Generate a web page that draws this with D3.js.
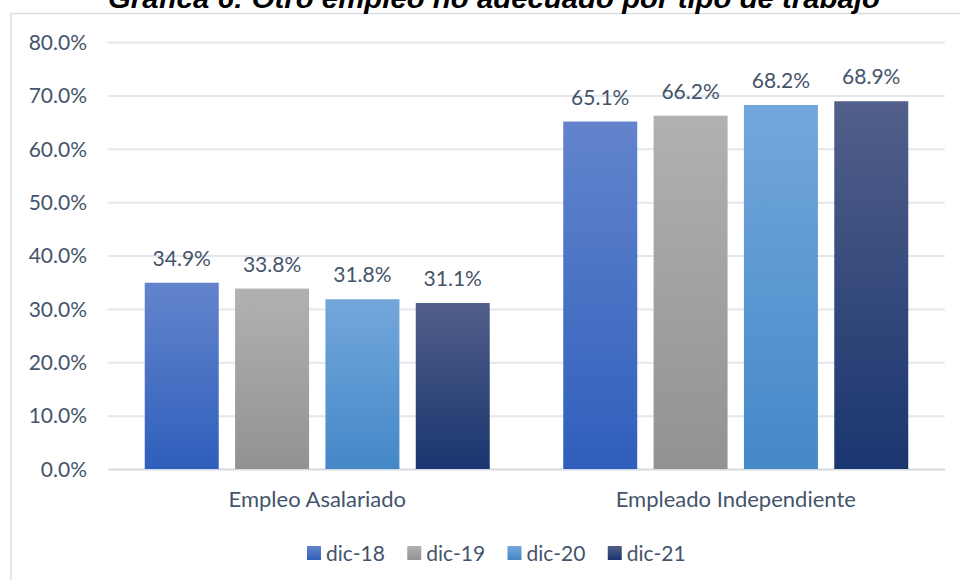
<!DOCTYPE html>
<html><head><meta charset="utf-8">
<script src="https://cdn.jsdelivr.net/npm/d3@7"></script>
<style>
html,body{margin:0;padding:0;background:#fff;}
svg{display:block;}
</style></head>
<body>
<svg id="chart" width="960" height="580"></svg>
<script>
const title = "Gráfica 6: Otro empleo no adecuado por tipo de trabajo";
const categories = ["Empleo Asalariado", "Empleado Independiente"];
const seriesNames = ["dic-18", "dic-19", "dic-20", "dic-21"];
const values = {
  "dic-18": [34.9, 65.1],
  "dic-19": [33.8, 66.2],
  "dic-20": [31.8, 68.2],
  "dic-21": [31.1, 68.9]
};
const yTicks = [0, 10, 20, 30, 40, 50, 60, 70, 80];
const colorsTop = ["#6384cc", "#b1b1b1", "#73a7db", "#525f8a"];
const colorsBottom = ["#2f5fbc", "#929292", "#4488c8", "#1a366f"];

const svg = d3.select("#chart");
const W = 960, H = 580;
const font = "Lato, 'Open Sans', sans-serif";
const textColor = "#44546a";

// gradients
const defs = svg.append("defs");
seriesNames.forEach((s, i) => {
  const g = defs.append("linearGradient").attr("id", "grad" + i)
    .attr("x1", 0).attr("y1", 0).attr("x2", 0).attr("y2", 1);
  g.append("stop").attr("offset", "0%").attr("stop-color", colorsTop[i]);
  g.append("stop").attr("offset", "100%").attr("stop-color", colorsBottom[i]);
});

// background + border
svg.append("rect").attr("x", 0).attr("y", 0).attr("width", W).attr("height", H).attr("fill", "#fff");
svg.append("rect").attr("x", 11).attr("y", 13.5).attr("width", 960).attr("height", 600)
  .attr("fill", "none").attr("stroke", "#d9dee6").attr("stroke-width", 1.5);

// title (clipped at top, as in the reference)
svg.append("text").attr("x", 494).attr("y", 8)
  .attr("text-anchor", "middle")
  .attr("font-family", "'Liberation Sans', Arial, sans-serif")
  .attr("font-weight", "bold").attr("font-style", "italic")
  .attr("font-size", 28).attr("fill", "#000")
  .attr("textLength", 772).attr("lengthAdjust", "spacingAndGlyphs")
  .text(title);

const plotLeft = 108, plotRight = 945, plotTop = 42, plotBottom = 469;

const y = d3.scaleLinear().domain([0, 80]).range([plotBottom, plotTop]);
const x0 = d3.scaleBand().domain(categories).range([plotLeft, plotRight])
  .paddingInner(0.1756).paddingOuter(0.0878);
const x1 = d3.scaleBand().domain(seriesNames).range([0, x0.bandwidth()])
  .paddingInner(0.181).paddingOuter(0);

// gridlines via axis
const grid = svg.append("g").attr("transform", `translate(${plotLeft},0)`)
  .call(d3.axisLeft(y).tickValues(yTicks).tickSize(-(plotRight - plotLeft)).tickFormat(""));
grid.select(".domain").remove();
grid.selectAll(".tick line").attr("stroke", d => d === 0 ? "#d5d9e0" : "#e3e6ec").attr("stroke-width", 2);

// y tick labels
const yAxis = svg.append("g").attr("transform", `translate(87,0)`)
  .call(d3.axisLeft(y).tickValues(yTicks).tickSize(0).tickPadding(0).tickFormat(d => d.toFixed(1) + "%"));
yAxis.select(".domain").remove();
yAxis.selectAll("text").attr("font-family", font).attr("font-size", 21)
  .attr("fill", textColor).attr("dy", "0.35em");

// bars
const groups = svg.append("g").selectAll("g").data(categories).join("g")
  .attr("transform", d => `translate(${x0(d)},0)`);
groups.each(function(cat, ci) {
  const g = d3.select(this);
  seriesNames.forEach((s, si) => {
    const v = values[s][ci];
    g.append("rect").attr("x", x1(s)).attr("y", y(v))
      .attr("width", x1.bandwidth()).attr("height", y(0) - y(v))
      .attr("fill", `url(#grad${si})`);
    g.append("text").attr("x", x1(s) + x1.bandwidth() / 2).attr("y", y(v) - 17)
      .attr("text-anchor", "middle").attr("font-family", font).attr("font-size", 21)
      .attr("fill", textColor).text(v.toFixed(1) + "%");
  });
});

// category axis labels
const xAxis = svg.append("g").attr("transform", `translate(0,${plotBottom})`)
  .call(d3.axisBottom(x0).tickSize(0).tickPadding(0));
xAxis.select(".domain").remove();
xAxis.selectAll("text").attr("font-family", font).attr("font-size", 22)
  .attr("fill", textColor).attr("dy", 0).attr("y", 38);

// legend
const legendX = d3.scaleBand().domain(seriesNames).range([307, 708]);
const legend = svg.append("g").selectAll("g").data(seriesNames).join("g")
  .attr("transform", d => `translate(${legendX(d)},546)`);
legend.append("rect").attr("width", 14).attr("height", 14)
  .attr("fill", (d, i) => `url(#grad${i})`);
legend.append("text").attr("x", 19).attr("y", 14.5)
  .attr("font-family", font).attr("font-size", 21).attr("fill", textColor).text(d => d);
</script>
</body></html>
